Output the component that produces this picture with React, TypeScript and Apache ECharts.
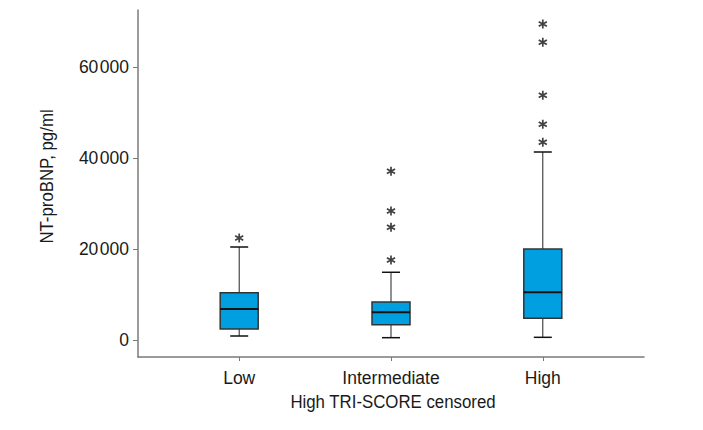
import React, { useEffect, useRef } from "react";
import * as echarts from "echarts";

// Risk groups on the x axis
const categories = ["Low", "Intermediate", "High"];

// Five-number summary per group (pg/ml)
const whiskerLow = [880, 510, 590];
const q1 = [2420, 3370, 4770];
const median = [6820, 6090, 10490];
const q3 = [10400, 8360, 20020];
const whiskerHigh = [20460, 14900, 41360];

// Extreme values per group, drawn as asterisks
const outliersLow = [22440];
const outliersIntermediate = [37120, 28380, 24790, 17600];
const outliersHigh = [69530, 65500, 53840, 47460, 43500];

// Y axis ticks
const yTicks = [0, 20000, 40000, 60000];

const FONT = "'Liberation Sans', Arial, sans-serif";
const LABEL_SIZE = 17.5;
const TITLE_SIZE = 19;
const TITLE_SQUEEZE = 0.885;
const TEXT = "#1a1a1a";
const AXIS = "#7a7a7a";
const BOX_FILL = "#00a0e0";

// Six-armed asterisk marker
const ASTERISK =
  "path://M41 0L59 0L59 100L41 100Z" +
  "M11.2 82.8L2.2 67.2L88.8 17.2L97.8 32.8Z" +
  "M2.2 32.8L11.2 17.2L97.8 67.2L88.8 82.8Z";

const formatThousands = (v: number) => {
  const s = String(Math.round(v));
  return s.length > 3 ? s.slice(0, -3) + "\u200A" + s.slice(-3) : s;
};

export default function App() {
  const ref = useRef<HTMLDivElement>(null);

  useEffect(() => {
    if (!ref.current) return;
    const chart = echarts.init(ref.current, undefined, { renderer: "svg" });

    const boxData = categories.map((_, i) => [
      i,
      whiskerLow[i],
      q1[i],
      median[i],
      q3[i],
      whiskerHigh[i],
    ]);

    const outlierGroups = [outliersLow, outliersIntermediate, outliersHigh];
    const outlierData: number[][] = [];
    outlierGroups.forEach((list, i) => list.forEach((v) => outlierData.push([i, v])));

    const BOX_HALF = 19;
    const CAP_HALF = 9;

    const option: echarts.EChartsOption = {
      animation: false,
      backgroundColor: "#ffffff",
      grid: { left: 138, right: 59, top: 10, bottom: 73 },
      xAxis: {
        type: "value",
        min: -2 / 3,
        max: 8 / 3,
        splitLine: { show: false },
        axisLine: { show: true, onZero: false, lineStyle: { color: AXIS, width: 1.5 } },
        axisTick: {
          show: true,
          length: 4,
          customValues: [0, 1, 2],
          lineStyle: { color: AXIS, width: 1 },
        },
        axisLabel: {
          customValues: [0, 1, 2],
          formatter: (v: number) => categories[Math.round(v)] ?? "",
          color: TEXT,
          fontFamily: FONT,
          fontSize: LABEL_SIZE,
          margin: 20.5,
          verticalAlign: "middle",
        },
      },
      yAxis: {
        type: "value",
        min: -3740,
        max: 72600,
        splitLine: { show: false },
        axisLine: { show: true, onZero: false, lineStyle: { color: AXIS, width: 1.5 } },
        axisTick: {
          show: true,
          length: 5,
          customValues: yTicks,
          lineStyle: { color: AXIS, width: 1 },
        },
        axisLabel: {
          customValues: yTicks,
          formatter: (v: number) => formatThousands(v),
          color: TEXT,
          fontFamily: FONT,
          fontSize: LABEL_SIZE,
          margin: 9,
        },
      },
      series: [
        {
          type: "custom",
          name: "box",
          data: boxData,
          encode: { x: 0, y: [1, 2, 3, 4, 5] },
          renderItem: (params: any, api: any) => {
            const x = api.value(0);
            const pMin = api.coord([x, api.value(1)]);
            const pQ1 = api.coord([x, api.value(2)]);
            const pMed = api.coord([x, api.value(3)]);
            const pQ3 = api.coord([x, api.value(4)]);
            const pMax = api.coord([x, api.value(5)]);
            const cx = pMed[0];
            const whisker = { stroke: "#222", lineWidth: 1 };
            return {
              type: "group",
              children: [
                { type: "line", shape: { x1: cx, y1: pMax[1], x2: cx, y2: pQ3[1] }, style: whisker },
                { type: "line", shape: { x1: cx, y1: pQ1[1], x2: cx, y2: pMin[1] }, style: whisker },
                { type: "line", shape: { x1: cx - CAP_HALF, y1: pMax[1], x2: cx + CAP_HALF, y2: pMax[1] }, style: { stroke: "#111", lineWidth: 1.5 } },
                { type: "line", shape: { x1: cx - CAP_HALF, y1: pMin[1], x2: cx + CAP_HALF, y2: pMin[1] }, style: { stroke: "#111", lineWidth: 1.5 } },
                {
                  type: "rect",
                  shape: { x: cx - BOX_HALF, y: pQ3[1], width: BOX_HALF * 2, height: pQ1[1] - pQ3[1] },
                  style: { fill: BOX_FILL, stroke: "#333", lineWidth: 1.5 },
                },
                { type: "line", shape: { x1: cx - BOX_HALF, y1: pMed[1], x2: cx + BOX_HALF, y2: pMed[1] }, style: { stroke: "#111", lineWidth: 2 } },
              ],
            };
          },
          z: 2,
        },
        {
          type: "scatter",
          name: "extremes",
          data: outlierData,
          symbol: ASTERISK,
          symbolSize: [9, 9],
          itemStyle: { color: "#111" },
          z: 3,
        },
      ],
      graphic: [
        {
          type: "text",
          x: 47,
          y: 176.5,
          rotation: Math.PI / 2,
          scaleX: TITLE_SQUEEZE,
          style: {
            text: "NT-proBNP, pg/ml",
            fill: TEXT,
            font: `${TITLE_SIZE}px ${FONT}`,
            textAlign: "center",
            textVerticalAlign: "middle",
          },
        },
        {
          type: "text",
          x: 393,
          y: 401.5,
          scaleX: TITLE_SQUEEZE,
          style: {
            text: "High TRI-SCORE censored",
            fill: TEXT,
            font: `${TITLE_SIZE}px ${FONT}`,
            textAlign: "center",
            textVerticalAlign: "middle",
          },
        },
      ],
    };

    chart.setOption(option);
    return () => chart.dispose();
  }, []);

  return (
    <div
      ref={ref}
      style={{ position: "fixed", left: 0, top: 0, width: 703, height: 430 }}
    />
  );
}
